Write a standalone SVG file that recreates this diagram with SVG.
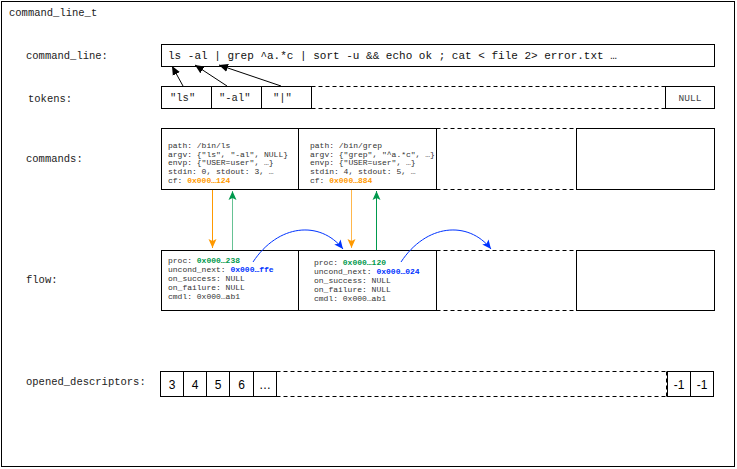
<svg xmlns="http://www.w3.org/2000/svg" width="737" height="469" viewBox="0 0 737 469">
<style>
.lbl{font-family:"Liberation Mono","Courier New",monospace;font-size:10.5px;fill:#222}
.big{font-family:"Liberation Mono","Courier New",monospace;font-size:11px;fill:#111}
.sm{font-family:"Liberation Mono","Courier New",monospace;font-size:8px;fill:#333}
.num{font-family:"Liberation Sans",Arial,sans-serif;font-size:12px;fill:#000}
.box{fill:#fff;stroke:#000;stroke-width:1}
.dash{fill:none;stroke:#000;stroke-width:1;stroke-dasharray:4 3}
.o{fill:#FF9900;font-weight:bold}
.g{fill:#00994D;font-weight:bold}
.b{fill:#0033FF;font-weight:bold}
</style>
<defs>
<marker id="ak" markerWidth="10" markerHeight="10" refX="9" refY="5" orient="auto" markerUnits="userSpaceOnUse"><path d="M0,1 L9,5 L0,9 Z" fill="#000"/></marker>
<marker id="ao" markerWidth="10" markerHeight="10" refX="9" refY="5" orient="auto" markerUnits="userSpaceOnUse"><path d="M0,1 L9,5 L0,9 L2,5 Z" fill="#FF9900"/></marker>
<marker id="ag" markerWidth="10" markerHeight="10" refX="9" refY="5" orient="auto" markerUnits="userSpaceOnUse"><path d="M0,1 L9,5 L0,9 L2,5 Z" fill="#00994D"/></marker>
<marker id="ab" markerWidth="10" markerHeight="10" refX="9" refY="5" orient="auto" markerUnits="userSpaceOnUse"><path d="M0,1 L9,5 L0,9 L2,5 Z" fill="#0033FF"/></marker>
</defs>
<rect x="0" y="0" width="737" height="469" fill="#fff"/>
<g id="outer">
<rect x="1.5" y="1.5" width="733" height="465" fill="none" stroke="#000"/>
<text class="lbl" x="9" y="16">command_line_t</text>
</g>
<g id="labels">
<text class="lbl" x="26" y="59">command_line:</text>
<text class="lbl" x="28" y="102">tokens:</text>
<text class="lbl" x="26" y="162">commands:</text>
<text class="lbl" x="26" y="283">flow:</text>
<text class="lbl" x="26" y="385">opened_descriptors:</text>
</g>
<g id="command_line">
<rect class="box" x="161.5" y="44.5" width="553" height="22"/>
<text class="big" x="168" y="59">ls -al | grep ^a.*c | sort -u &amp;&amp; echo ok ; cat &lt; file 2&gt; error.txt …</text>
</g>
<g id="tokens">
<rect class="box" x="161.5" y="86.5" width="50" height="22"/>
<rect class="box" x="211.5" y="86.5" width="50" height="22"/>
<rect class="box" x="261.5" y="86.5" width="50" height="22"/>
<path class="dash" d="M311.5,86.5 H665 M311.5,108.5 H665"/>
<rect class="box" x="665.5" y="86.5" width="49" height="22"/>
<text class="lbl" x="170" y="101">"ls"</text>
<text class="lbl" x="219" y="101">"-al"</text>
<text class="lbl" x="273" y="101">"|"</text>
<text class="lbl" x="690" y="101" text-anchor="middle" style="font-size:9.5px;fill:#444">NULL</text>
</g>
<g id="commands">
<rect class="box" x="161.5" y="128.5" width="137" height="61"/>
<rect class="box" x="298.5" y="128.5" width="138" height="61"/>
<path class="dash" d="M436.5,128.5 H576 M436.5,189.5 H576"/>
<rect class="box" x="576.5" y="128.5" width="138" height="61"/>
<text class="sm" x="168" y="148">path: /bin/ls</text>
<text class="sm" x="168" y="156.7">argv: {"ls", "-al", NULL}</text>
<text class="sm" x="168" y="165.4">envp: {"USER=user", …}</text>
<text class="sm" x="168" y="174.1">stdin: 0, stdout: 3, …</text>
<text class="sm" x="168" y="182.8">cf: <tspan class="o">0x000…124</tspan></text>
<text class="sm" x="310" y="148">path: /bin/grep</text>
<text class="sm" x="310" y="156.7">argv: {"grep", "^a.*c", …}</text>
<text class="sm" x="310" y="165.4">envp: {"USER=user", …}</text>
<text class="sm" x="310" y="174.1">stdin: 4, stdout: 5, …</text>
<text class="sm" x="310" y="182.8">cf: <tspan class="o">0x000…884</tspan></text>
</g>
<g id="flow">
<rect class="box" x="161.5" y="250.5" width="137" height="60"/>
<rect class="box" x="298.5" y="250.5" width="138" height="60"/>
<path class="dash" d="M436.5,250.5 H576 M436.5,310.5 H576"/>
<rect class="box" x="576.5" y="250.5" width="138" height="60"/>
<text class="sm" x="168" y="263">proc: <tspan class="g">0x000…238</tspan></text>
<text class="sm" x="168" y="272">uncond_next: <tspan class="b">0x000…ffe</tspan></text>
<text class="sm" x="168" y="281">on_success: NULL</text>
<text class="sm" x="168" y="290">on_failure: NULL</text>
<text class="sm" x="168" y="299">cmdl: 0x000…ab1</text>
<text class="sm" x="314" y="265">proc: <tspan class="g">0x000…120</tspan></text>
<text class="sm" x="314" y="274">uncond_next: <tspan class="b">0x000…024</tspan></text>
<text class="sm" x="314" y="283">on_success: NULL</text>
<text class="sm" x="314" y="292">on_failure: NULL</text>
<text class="sm" x="314" y="301">cmdl: 0x000…ab1</text>
</g>
<g id="opened_descriptors">
<rect class="box" x="160.5" y="371.5" width="23" height="25"/>
<rect class="box" x="183.5" y="371.5" width="23" height="25"/>
<rect class="box" x="206.5" y="371.5" width="23" height="25"/>
<rect class="box" x="229.5" y="371.5" width="24" height="25"/>
<rect class="box" x="253.5" y="371.5" width="23" height="25"/>
<path class="dash" d="M276.5,371.5 H667 M276.5,396.5 H667 M666.5,371.5 V396.5"/>
<rect class="box" x="667.5" y="371.5" width="23" height="25"/>
<rect class="box" x="690.5" y="371.5" width="23" height="25"/>
<text class="num" x="172" y="389" text-anchor="middle">3</text>
<text class="num" x="195" y="389" text-anchor="middle">4</text>
<text class="num" x="218" y="389" text-anchor="middle">5</text>
<text class="num" x="241.5" y="389" text-anchor="middle">6</text>
<text class="num" x="265" y="389" text-anchor="middle">…</text>
<text class="num" x="679" y="389" text-anchor="middle">-1</text>
<text class="num" x="702" y="389" text-anchor="middle">-1</text>
</g>
<g id="connectors">
<path d="M183,86 L172,66" stroke="#000" fill="none" marker-end="url(#ak)"/>
<path d="M227,86 L195,65" stroke="#000" fill="none" marker-end="url(#ak)"/>
<path d="M281,86 L219,65" stroke="#000" fill="none" marker-end="url(#ak)"/>
<path d="M212.5,190 V248" stroke="#FF9900" fill="none" marker-end="url(#ao)"/>
<path d="M351.5,190 V248" stroke="#FF9900" stroke-opacity="0.7" fill="none" marker-end="url(#ao)"/>
<path d="M232.5,250 V191" stroke="#00994D" stroke-opacity="0.6" fill="none" marker-end="url(#ag)"/>
<path d="M376.5,250 V191" stroke="#00994D" fill="none" marker-end="url(#ag)"/>
<path d="M253,262 C278,224 320,220 343,249" stroke="#0033FF" fill="none" marker-end="url(#ab)"/>
<path d="M401,262 C426,224 468,220 491,249" stroke="#0033FF" fill="none" marker-end="url(#ab)"/>
</g>
</svg>
